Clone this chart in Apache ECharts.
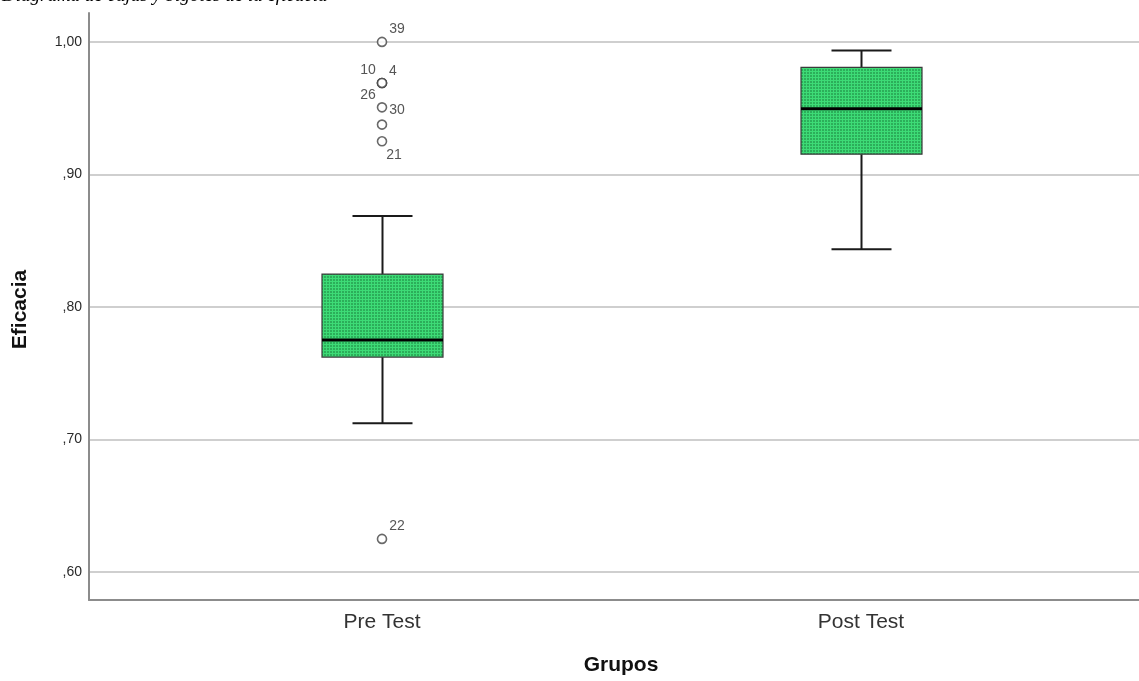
<!DOCTYPE html>
<html>
<head>
<meta charset="utf-8">
<script src="https://cdn.jsdelivr.net/npm/echarts@6/dist/echarts.min.js"></script>
<style>
html,body{margin:0;padding:0;background:#fff;}
#chart{width:1139px;height:681px;}
</style>
</head>
<body>
<div id="chart"></div>
<script>
// ---- data ----
const groups = ['Pre Test', 'Post Test'];
const groupPos = [1, 2];
const whiskerLow = [0.7123, 0.8436];
const q1 = [0.7622, 0.9153];
const median = [0.7750, 0.9496];
const q3 = [0.8248, 0.9807];
const whiskerHigh = [0.8687, 0.9935];
const outlierGroup = [1, 1, 1, 1, 1, 1, 1, 1];
const outlierValues = [1.000, 0.969, 0.969, 0.969, 0.9506, 0.9376, 0.925, 0.625];
const outlierIds = ['39', '10', '4', '26', '30', '', '21', '22'];
const yTicks = [0.6, 0.7, 0.8, 0.9, 1.0];

// ---- styling ----
const labelOffsets = {
  '39': [15, -13], '10': [-14, -13], '4': [11, -12], '26': [-14, 12],
  '30': [15, 3], '21': [12, 14], '22': [15, -13], '': [0, 0]
};

function makePattern() {
  const c = document.createElement('canvas');
  c.width = 3; c.height = 3;
  const ctx = c.getContext('2d');
  ctx.fillStyle = '#3ddb76';
  ctx.fillRect(0, 0, 3, 3);
  ctx.fillStyle = '#2cae5a';
  ctx.fillRect(0, 0, 2, 2);
  return c;
}
const pattern = { image: makePattern(), repeat: 'repeat' };

const boxData = groupPos.map((g, i) => [g, whiskerLow[i], q1[i], median[i], q3[i], whiskerHigh[i]]);
const outlierData = outlierValues.map((v, i) => ({
  value: [outlierGroup[i], v],
  label: {
    show: outlierIds[i] !== '',
    formatter: outlierIds[i],
    position: 'inside',
    offset: labelOffsets[outlierIds[i]]
  }
}));

function fmtY(v) {
  let s = Number(v).toFixed(2).replace('.', ',');
  if (s.startsWith('0')) s = s.slice(1);
  return s;
}

const chart = echarts.init(document.getElementById('chart'), null, { renderer: 'canvas' });
const option = {
  backgroundColor: '#ffffff',
  animation: false,
  graphic: [{
    type: 'text',
    left: 2,
    top: -14,
    style: {
      text: 'Diagrama de cajas y bigotes de la eficacia',
      font: 'italic 19px "Liberation Serif", "Times New Roman", serif',
      fill: '#000'
    }
  }],
  grid: { left: 89, right: 0, top: 13, bottom: 77 },
  xAxis: {
    type: 'value',
    min: 0.3883,
    max: 2.5804,
    name: 'Grupos',
    nameLocation: 'middle',
    nameGap: 55,
    nameTextStyle: { fontFamily: 'Liberation Sans, Arial', fontWeight: 'bold', fontSize: 21, color: '#111', padding: [0, 0, 0, 14] },
    axisLine: { show: true, lineStyle: { color: '#8c8c8c', width: 2 } },
    axisTick: { show: false },
    splitLine: { show: false },
    axisLabel: {
      customValues: groupPos,
      formatter: v => groups[groupPos.indexOf(v)] || '',
      margin: 12,
      fontFamily: 'Liberation Sans, Arial',
      fontSize: 21,
      color: '#333'
    }
  },
  yAxis: {
    type: 'value',
    min: 0.5789,
    max: 1.0218,
    name: 'Eficacia',
    nameLocation: 'middle',
    nameGap: 58,
    nameRotate: 90,
    nameTextStyle: { fontFamily: 'Liberation Sans, Arial', fontWeight: 'bold', fontSize: 21, color: '#111', padding: [0, 6, 0, 0] },
    axisLine: { show: true, lineStyle: { color: '#8c8c8c', width: 2 } },
    axisTick: { show: false, customValues: yTicks },
    splitLine: { show: true, showMinLine: true, showMaxLine: true, lineStyle: { color: '#cfcfcf', width: 2 } },
    axisLabel: {
      customValues: yTicks,
      formatter: fmtY,
      margin: 7,
      fontFamily: 'Liberation Sans, Arial',
      fontSize: 14,
      color: '#2a2a2a'
    }
  },
  series: [{
    type: 'custom',
    data: boxData,
    encode: { x: 0, y: [1, 2, 3, 4, 5] },
    renderItem: function (params, api) {
      const x = api.value(0);
      const pLow = api.coord([x, api.value(1)]);
      const pQ1 = api.coord([x, api.value(2)]);
      const pMed = api.coord([x, api.value(3)]);
      const pQ3 = api.coord([x, api.value(4)]);
      const pHigh = api.coord([x, api.value(5)]);
      const cx = Math.round(pLow[0]) + 0.5;
      const hb = 60.5, hc = 30;
      const ls = { stroke: '#1a1a1a', lineWidth: 2 };
      return {
        type: 'group',
        children: [
          { type: 'line', shape: { x1: cx, y1: pLow[1], x2: cx, y2: pQ1[1] }, style: ls },
          { type: 'line', shape: { x1: cx, y1: pQ3[1], x2: cx, y2: pHigh[1] }, style: ls },
          { type: 'line', shape: { x1: cx - hc, y1: pLow[1], x2: cx + hc, y2: pLow[1] }, style: ls },
          { type: 'line', shape: { x1: cx - hc, y1: pHigh[1], x2: cx + hc, y2: pHigh[1] }, style: ls },
          { type: 'rect', shape: { x: cx - hb, y: pQ3[1], width: hb * 2, height: pQ1[1] - pQ3[1] },
            style: { fill: pattern, stroke: '#3a3a3a', lineWidth: 1.2 } },
          { type: 'line', shape: { x1: cx - hb, y1: pMed[1], x2: cx + hb, y2: pMed[1] },
            style: { stroke: '#000', lineWidth: 3 } }
        ]
      };
    }
  }, {
    type: 'scatter',
    data: outlierData,
    symbol: 'circle',
    symbolSize: 9,
    itemStyle: { color: '#ffffff', borderColor: '#444', borderWidth: 1.6 },
    label: {
      fontFamily: 'Liberation Sans, Arial',
      fontSize: 14,
      color: '#2a2a2a'
    },
    z: 5
  }]
};
chart.setOption(option);
</script>
</body>
</html>
